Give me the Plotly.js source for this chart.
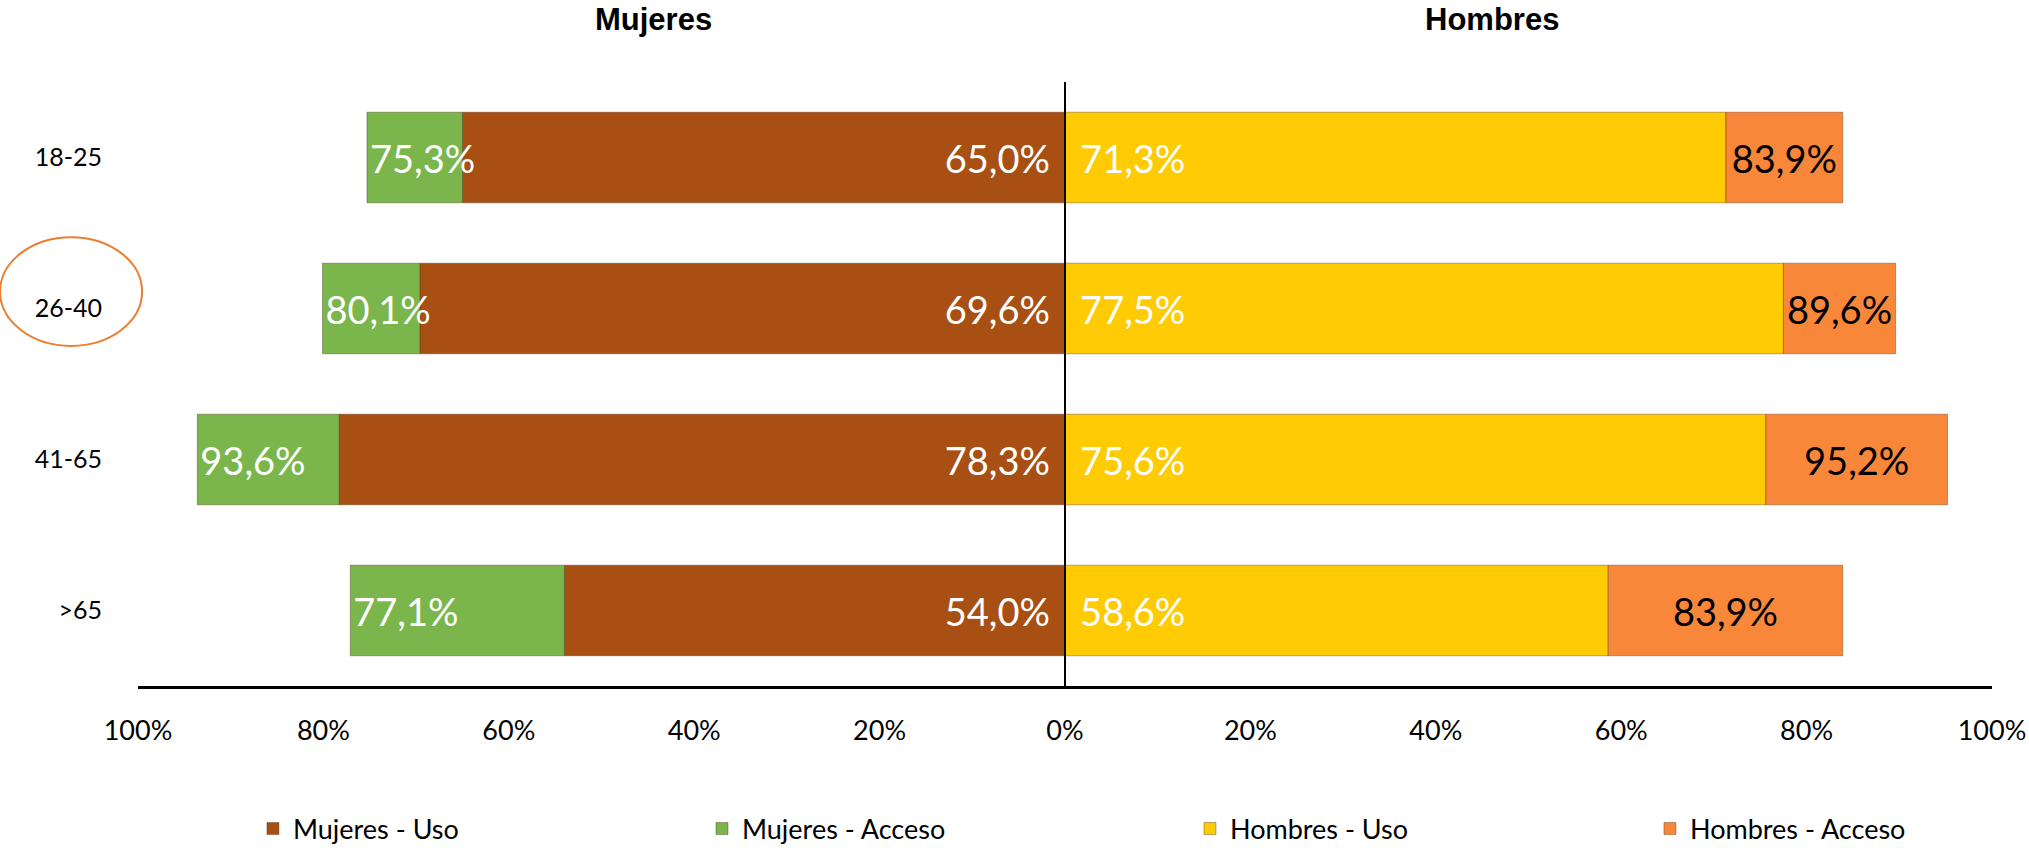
<!DOCTYPE html>
<html>
<head>
<meta charset="utf-8">
<script src="https://cdn.plot.ly/plotly-3.0.1.min.js"></script>
<style>
  html, body { margin: 0; padding: 0; background: #ffffff; }
  #chart { width: 2029px; height: 848px; }
</style>
</head>
<body>
<div id="chart"></div>
<script>
// ---- Data ----
const ageGroups = ['18-25', '26-40', '41-65', '>65'];
const mujeresUso = [65.0, 69.6, 78.3, 54.0];
const mujeresAcceso = [75.3, 80.1, 93.6, 77.1];
const hombresUso = [71.3, 77.5, 75.6, 58.6];
const hombresAcceso = [83.9, 89.6, 95.2, 83.9];
const tickValues = [-100, -80, -60, -40, -20, 0, 20, 40, 60, 80, 100];
const tickLabels = ['100%', '80%', '60%', '40%', '20%', '0%', '20%', '40%', '60%', '80%', '100%'];
const seriesNames = ['Mujeres - Uso', 'Mujeres - Acceso', 'Hombres - Uso', 'Hombres - Acceso'];
const panelTitles = ['Mujeres', 'Hombres'];

// ---- Styles ----
const colors = {
  mujUso: '#A84F13',
  mujAcceso: '#7AB64C',
  homUso: '#FECB05',
  homAcceso: '#F8873A'
};
const labelFont = 'Lato, "Open Sans", sans-serif';
const barLine = { color: 'rgba(60,30,0,0.35)', width: 1 };
const PAD = '\u00a0\u200a';

const neg = a => a.map(v => -v);
const diff = (a, b) => a.map((v, i) => v - b[i]);

const traces = [
  {
    type: 'bar', orientation: 'h', name: seriesNames[0], legend: 'legend',
    y: ageGroups, x: neg(mujeresUso), customdata: mujeresUso,
    marker: { color: colors.mujUso, line: barLine },
    texttemplate: '%{customdata:.1f}%' + PAD, textposition: 'inside',
    insidetextanchor: 'start', constraintext: 'none',
    insidetextfont: { color: '#ffffff', size: 38, family: labelFont },
    hoverinfo: 'skip'
  },
  {
    type: 'bar', orientation: 'h', name: seriesNames[1], legend: 'legend2',
    y: ageGroups, x: neg(diff(mujeresAcceso, mujeresUso)), customdata: mujeresAcceso,
    marker: { color: colors.mujAcceso, line: barLine },
    texttemplate: '%{customdata:.1f}%', textposition: 'inside',
    insidetextanchor: 'end', constraintext: 'none',
    insidetextfont: { color: '#ffffff', size: 38, family: labelFont },
    hoverinfo: 'skip'
  },
  {
    type: 'bar', orientation: 'h', name: seriesNames[2], legend: 'legend3',
    y: ageGroups, x: hombresUso, customdata: hombresUso,
    marker: { color: colors.homUso, line: barLine },
    texttemplate: PAD + '%{customdata:.1f}%', textposition: 'inside',
    insidetextanchor: 'start', constraintext: 'none',
    insidetextfont: { color: '#ffffff', size: 38, family: labelFont },
    hoverinfo: 'skip'
  },
  {
    type: 'bar', orientation: 'h', name: seriesNames[3], legend: 'legend4',
    y: ageGroups, x: diff(hombresAcceso, hombresUso), customdata: hombresAcceso,
    marker: { color: colors.homAcceso, line: barLine },
    texttemplate: '%{customdata:.1f}%', textposition: 'inside',
    insidetextanchor: 'middle', constraintext: 'none',
    insidetextfont: { color: '#000000', size: 38, family: labelFont },
    hoverinfo: 'skip'
  }
];

function legendAt(xPaper) {
  return {
    orientation: 'h',
    xref: 'paper',
    yref: 'container',
    x: xPaper,
    xanchor: 'left',
    y: 0.0224,
    yanchor: 'middle',
    font: { family: labelFont, size: 27, color: '#000000' },
    bgcolor: 'rgba(0,0,0,0)'
  };
}

const layout = {
  width: 2029,
  height: 848,
  paper_bgcolor: '#ffffff',
  plot_bgcolor: '#ffffff',
  separators: ',.',
  barmode: 'relative',
  bargap: 0.4,
  margin: { l: 138, r: 37, t: 82, b: 162 },
  font: { family: labelFont, size: 27, color: '#000000' },
  xaxis: {
    range: [-100, 100],
    tickvals: tickValues,
    ticktext: tickLabels,
    ticks: 'outside',
    ticklen: 19,
    tickcolor: 'rgba(0,0,0,0)',
    tickfont: { family: labelFont, size: 27, color: '#000000' },
    showgrid: false,
    showline: true,
    linecolor: '#000000',
    linewidth: 2.5,
    zeroline: true,
    zerolinecolor: '#000000',
    zerolinewidth: 1.5,
    zerolinelayer: 'above traces',
    fixedrange: true
  },
  yaxis: {
    type: 'category',
    autorange: 'reversed',
    ticks: 'outside',
    ticklen: 30,
    tickcolor: 'rgba(0,0,0,0)',
    tickfont: { family: labelFont, size: 25, color: '#000000' },
    showgrid: false,
    showline: false,
    zeroline: false,
    fixedrange: true
  },
  showlegend: true,
  legend: legendAt(0.0620),
  legend2: legendAt(0.3042),
  legend3: legendAt(0.5674),
  legend4: legendAt(0.8155),
  annotations: [
    {
      text: panelTitles[0], xref: 'paper', yref: 'paper',
      x: 0.2783, y: 1.104, xanchor: 'center', yanchor: 'middle',
      showarrow: false,
      font: { family: '"Liberation Sans", Arial, sans-serif', size: 31, color: '#000000', weight: 'bold' }
    },
    {
      text: panelTitles[1], xref: 'paper', yref: 'paper',
      x: 0.7303, y: 1.104, xanchor: 'center', yanchor: 'middle',
      showarrow: false,
      font: { family: '"Liberation Sans", Arial, sans-serif', size: 31, color: '#000000', weight: 'bold' }
    }
  ],
  shapes: [
    {
      type: 'circle', xref: 'paper', yref: 'paper',
      x0: -0.0744, x1: 0.0022, y0: 0.563, y1: 0.743,
      line: { color: '#ED7D31', width: 2 },
      fillcolor: 'rgba(0,0,0,0)'
    }
  ]
};

Plotly.newPlot('chart', traces, layout, { displayModeBar: false, staticPlot: true });
</script>
</body>
</html>
